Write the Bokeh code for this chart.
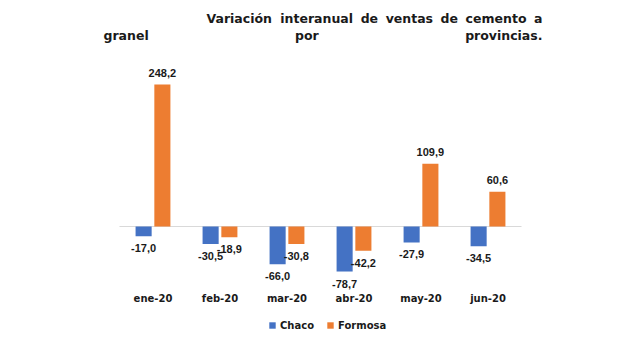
from bokeh.plotting import figure
from bokeh.models import FactorRange, Range1d, Label, Legend, LegendItem, ColumnDataSource
from bokeh.transform import dodge
from bokeh.core.properties import value
from bokeh.embed import file_html
from bokeh.resources import INLINE

months = ["ene-20", "feb-20", "mar-20", "abr-20", "may-20", "jun-20"]
chaco = [-17.0, -30.5, -66.0, -78.7, -27.9, -34.5]
formosa = [248.2, -18.9, -30.8, -42.2, 109.9, 60.6]
series_names = ["Chaco", "Formosa"]
title_line1 = ["Variación", "interanual", "de", "ventas", "de", "cemento", "a"]
title_line2 = ["granel", "por", "provincias."]

BLUE = "#4472C4"
ORANGE = "#ED7D31"
TXT = "#1a1a1a"
TITLE_PX = 12.5

# approximate advance widths (em) of DejaVu Sans Bold, used to justify the title
ADV = {"V": 0.774, "a": 0.675, "r": 0.493, "i": 0.343, "c": 0.593, "ó": 0.687,
       "n": 0.712, "t": 0.478, "e": 0.678, "u": 0.712, "l": 0.343, "d": 0.716,
       "s": 0.595, "m": 1.042, "o": 0.687, "v": 0.652, "g": 0.716, "p": 0.716,
       ".": 0.380}


def word_w(w):
    return sum(ADV.get(ch, 0.65) for ch in w) * TITLE_PX


def justify(words, left, right):
    widths = [word_w(w) for w in words]
    gap = (right - left - sum(widths)) / (len(words) - 1)
    xs, x = [], left
    for wd in widths:
        xs.append(x)
        x += wd + gap
    return xs


def fmt(v):
    return f"{v:.1f}".replace(".", ",")


p = figure(width=640, height=338,
           x_range=FactorRange(factors=months, range_padding=0.592),
           y_range=Range1d(-195.8, 395.1),
           output_backend="svg", toolbar_location=None,
           x_axis_location=None, y_axis_location=None,
           min_border_left=0, min_border_right=0,
           min_border_top=0, min_border_bottom=0)
p.outline_line_color = None
p.grid.visible = False
p.background_fill_color = "white"
p.border_fill_color = "white"

# zero line across the category area
zsrc = ColumnDataSource(dict(x0=[months[0]], x1=[months[-1]], y=[0]))
p.segment(x0=dodge("x0", -0.5, range=p.x_range), x1=dodge("x1", 0.5, range=p.x_range),
          y0="y", y1="y", source=zsrc, line_color="#D9D9D9", line_width=1)

renderers = []
for vals, off, col in [(chaco, -0.14, BLUE), (formosa, 0.14, ORANGE)]:
    src = ColumnDataSource(dict(
        x=months, y=vals,
        lbl=[fmt(v) for v in vals],
        yo=[-12 if v >= 0 else 12 for v in vals],
    ))
    r = p.vbar(x=dodge("x", off, range=p.x_range), top="y", bottom=0, width=0.24,
               source=src, fill_color=col, line_color=None)
    renderers.append(r)
    p.text(x=dodge("x", off, range=p.x_range), y="y",
           text="lbl", y_offset="yo", source=src,
           text_align="center", text_baseline="middle",
           text_font=value("Liberation Sans"), text_font_style="bold",
           text_font_size="11px", text_color=TXT)

p.text(x=months, y=[0] * len(months), text=months, y_offset=72,
       text_align="center", text_baseline="middle",
       text_font=value("DejaVu Sans"), text_font_style="bold",
       text_font_size="10px", text_color=TXT)

# justified two-line title, word by word
tkw = dict(x_units="screen", y_units="screen", text_font="DejaVu Sans",
           text_font_style="bold", text_font_size=f"{TITLE_PX}px", text_color=TXT,
           text_baseline="alphabetic", text_align="left")
for w, x in zip(title_line1, justify(title_line1, 206, 542)):
    p.add_layout(Label(x=x, y=320.5, text=w, **tkw))
for w, x in zip(title_line2, justify(title_line2, 103, 542)):
    p.add_layout(Label(x=x, y=303, text=w, **tkw))

legend = Legend(items=[LegendItem(label=series_names[0], renderers=[renderers[0]]),
                       LegendItem(label=series_names[1], renderers=[renderers[1]])],
                location=(268, 7), orientation="horizontal",
                glyph_width=8, glyph_height=8, label_height=12, label_standoff=4,
                spacing=12, padding=0, margin=0,
                label_text_font="DejaVu Sans", label_text_font_style="bold",
                label_text_font_size="10px", label_text_color=TXT,
                border_line_color=None, background_fill_alpha=0)
p.add_layout(legend)

open("out.html", "w").write(file_html(p, INLINE))
